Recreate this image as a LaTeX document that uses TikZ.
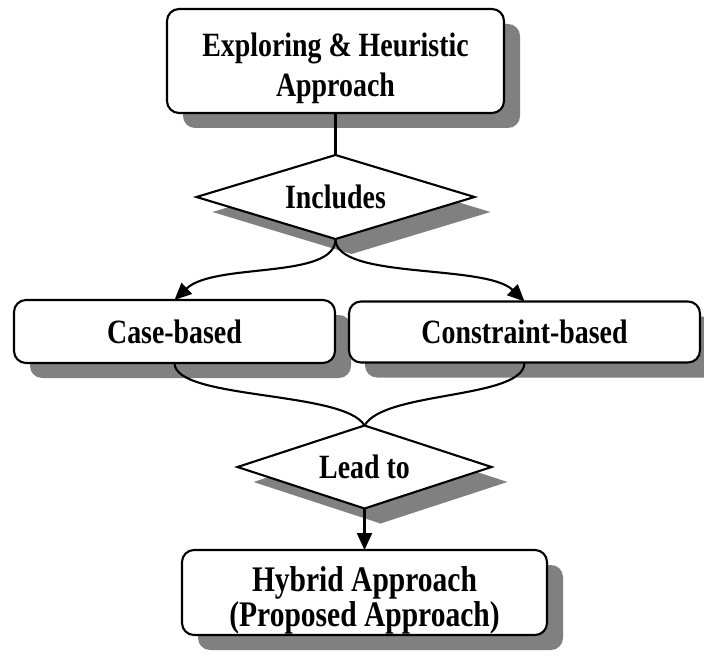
\documentclass[tikz,border=0pt]{standalone}
\usepackage{fontspec}
\setmainfont{Liberation Serif}[FakeStretch=0.82]
\usetikzlibrary{shapes.geometric,shadows,arrows.meta}
\definecolor{shadowgray}{RGB}{128,128,128}
\begin{document}
\begin{tikzpicture}[x=1pt,y=-1pt,
  shad/.style={drop shadow={shadow xshift=16pt, shadow yshift=-15pt, opacity=1, fill=shadowgray}},
  box/.style={draw, line width=2.1pt, rounded corners=12pt, fill=white, inner sep=0pt, outer sep=0pt,
    align=center, font=\bfseries\fontsize{34}{40}\selectfont, shad},
  dia/.style={draw, shape=diamond, line width=2.1pt, fill=white, inner sep=0pt, outer sep=0pt,
    font=\bfseries\fontsize{34}{40}\selectfont, shad},
  conn/.style={line width=2.1pt},
  arr/.style={conn, -{Triangle[length=17pt,width=15pt]}}
]
\useasboundingbox (0,0) rectangle (704,666);
\node[box, minimum width=337pt, minimum height=104pt] (top) at (335.5,61) {\rule{0pt}{39pt}Exploring \& Heuristic\\Approach};
\node[dia, aspect=3.3, minimum width=278pt, minimum height=84pt] (inc) at (335.5,197) {Includes};
\node[box, minimum width=321pt, minimum height=63pt] (case) at (174.5,331.5) {Case-based};
\node[box, minimum width=351pt, minimum height=61pt] (cons) at (524.5,332) {Constraint-based};
\node[dia, aspect=3.06, minimum width=254pt, minimum height=83pt] (lead) at (364.5,467) {Lead to};
\node[box, minimum width=365pt, minimum height=85pt, font=\bfseries\fontsize{36}{35}\selectfont] (hyb) at (364.5,592.5) {\rule{0pt}{41pt}Hybrid Approach\\(Proposed Approach)};
\draw[conn] (top.south) -- (inc.north);
\draw[arr] (inc.south) .. controls +(0,41) and +(40,-38) .. (case.north);
\draw[arr] (inc.south) .. controls +(0,41) and +(-39,-38) .. (cons.north);
\draw[conn] (case.south) .. controls +(0,37) and +(-20,-35) .. (lead.north);
\draw[conn] (cons.south) .. controls +(0,37) and +(20,-35) .. (lead.north);
\draw[arr] (lead.south) -- (hyb.north);
\end{tikzpicture}
\end{document}
